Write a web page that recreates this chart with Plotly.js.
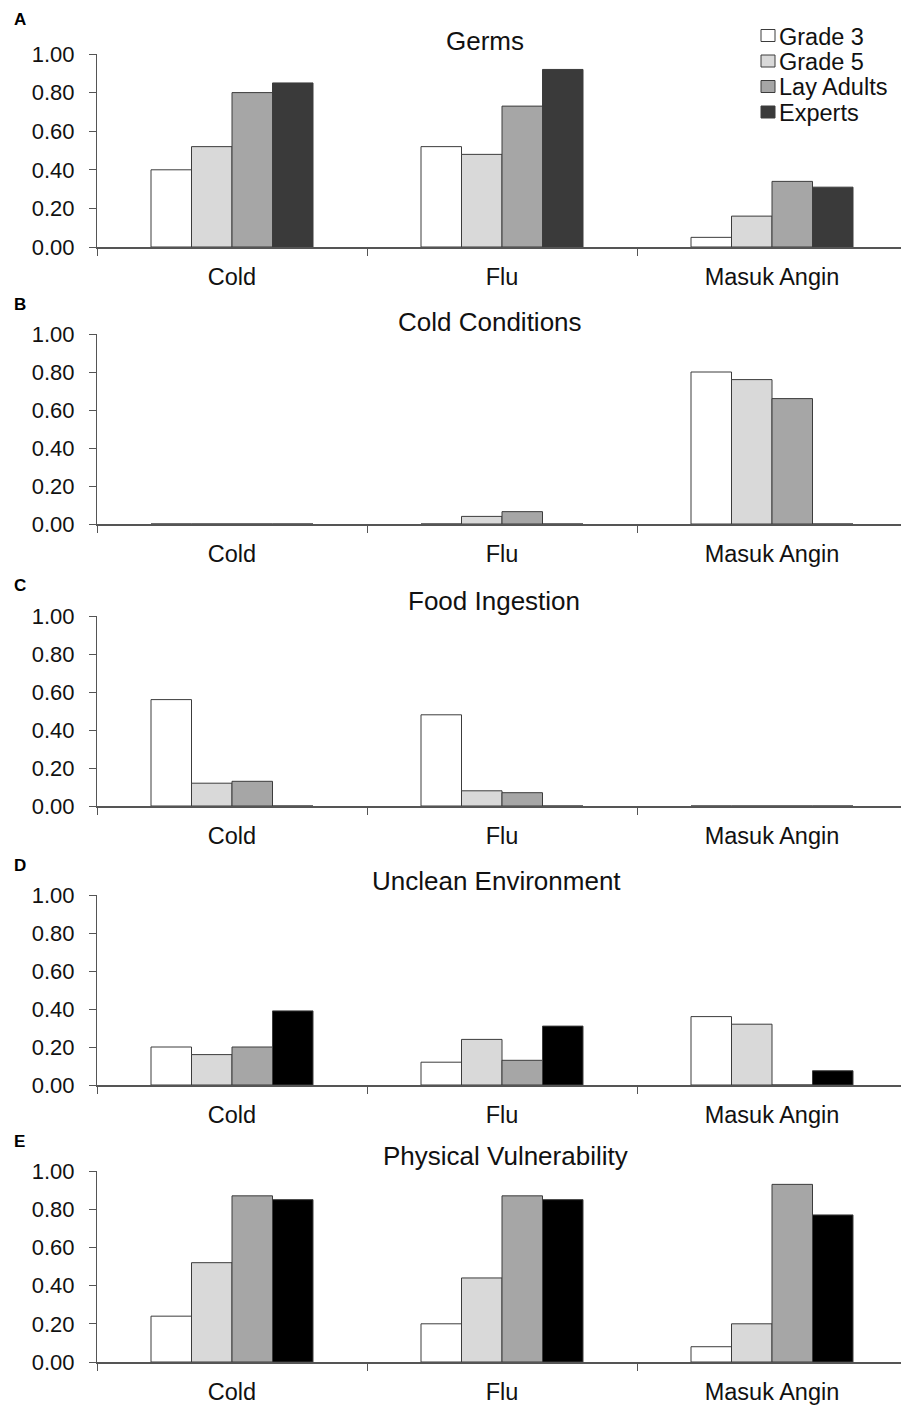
<!DOCTYPE html>
<html>
<head>
<meta charset="utf-8">
<script src="https://cdn.plot.ly/plotly-3.0.1.min.js"></script>
<style>html,body{margin:0;padding:0;background:#fff;}#chart{width:901px;height:1405px;}</style>
</head>
<body>
<div id="chart"></div>
<script>
// ---- data ----
const categories = ['Cold', 'Flu', 'Masuk Angin'];
const groups = ['Grade 3', 'Grade 5', 'Lay Adults', 'Experts'];
const panelTitles = ['Germs', 'Cold Conditions', 'Food Ingestion', 'Unclean Environment', 'Physical Vulnerability'];
const panelLetters = ['A', 'B', 'C', 'D', 'E'];
const yTickVals = [0, 0.2, 0.4, 0.6, 0.8, 1.0];
const yTickText = ['0.00', '0.20', '0.40', '0.60', '0.80', '1.00'];

// each row: one group (Grade 3, Grade 5, Lay Adults, Experts), values for Cold, Flu, Masuk Angin
const germs = [[0.40, 0.52, 0.05], [0.52, 0.48, 0.16], [0.80, 0.73, 0.34], [0.85, 0.92, 0.31]];
const coldConditions = [[0, 0, 0.80], [0, 0.04, 0.76], [0, 0.065, 0.66], [0, 0, 0]];
const foodIngestion = [[0.56, 0.48, 0], [0.12, 0.08, 0], [0.13, 0.07, 0], [0, 0, 0]];
const uncleanEnvironment = [[0.20, 0.12, 0.36], [0.16, 0.24, 0.32], [0.20, 0.13, 0], [0.39, 0.31, 0.075]];
const physicalVulnerability = [[0.24, 0.20, 0.08], [0.52, 0.44, 0.20], [0.87, 0.87, 0.93], [0.85, 0.85, 0.77]];
const panels = [germs, coldConditions, foodIngestion, uncleanEnvironment, physicalVulnerability];

// ---- styling ----
const W = 901, H = 1405;
const FONT = '"Liberation Sans", Arial, Helvetica, sans-serif';
const legendColors = ['#ffffff', '#d9d9d9', '#a6a6a6', '#3a3a3a'];
const fillColors = [
  ['#ffffff', '#d9d9d9', '#a6a6a6', '#3a3a3a'],
  ['#ffffff', '#d9d9d9', '#a6a6a6', '#3a3a3a'],
  ['#ffffff', '#d9d9d9', '#a6a6a6', '#3a3a3a'],
  ['#ffffff', '#d9d9d9', '#a6a6a6', '#000000'],
  ['#ffffff', '#d9d9d9', '#a6a6a6', '#000000']
];
// plot-area pixel extents (top of 1.00, baseline 0.00)
const plotPx = [[54, 247], [334, 524], [616, 806], [895, 1085], [1171, 1362]];
const titlePx = [[485, 41], [490, 322], [494, 601], [496, 881], [505, 1156]];
const letterPx = [20, 304, 585, 865, 1141];
const legendRowPx = [35.5, 61, 86.5, 112];
const xLeft = 97;
const xRangeMax = -0.5 + (W - xLeft) / 270;
const px = v => v / W;
const py = v => 1 - v / H;

const traces = [];
const layout = {
  width: W, height: H,
  margin: {l: 0, r: 0, t: 0, b: 0},
  paper_bgcolor: '#ffffff', plot_bgcolor: 'rgba(0,0,0,0)',
  font: {family: FONT, color: '#111111', size: 20},
  barmode: 'group', bargap: 0.4, bargroupgap: 0,
  showlegend: false,
  annotations: [],
  shapes: []
};

panels.forEach((panel, p) => {
  const sfx = p === 0 ? '' : String(p + 1);
  panel.forEach((vals, g) => {
    traces.push({
      type: 'bar',
      x: categories,
      y: vals,
      name: groups[g],
      showlegend: false,
      xaxis: 'x' + sfx,
      yaxis: 'y' + sfx,
      marker: {color: fillColors[p][g], line: {color: '#3c3c3c', width: 1}},
      hoverinfo: 'x+y+name'
    });
  });
  const [top, bot] = plotPx[p];
  layout['xaxis' + sfx] = {
    domain: [xLeft / W, 1],
    anchor: 'y' + sfx,
    type: 'category',
    range: [-0.5, xRangeMax],
    tickson: 'boundaries',
    ticks: 'outside', ticklen: 7, tickwidth: 1, tickcolor: '#555555',
    ticklabelstandoff: 8,
    showline: true, linecolor: '#555555', linewidth: 1.5,
    showgrid: false, zeroline: false,
    tickfont: {family: FONT, size: 23.5, color: '#111111'},
    fixedrange: true
  };
  layout['yaxis' + sfx] = {
    domain: [1 - bot / H, 1 - top / H],
    anchor: 'x' + sfx,
    range: [0, 1],
    tickmode: 'array', tickvals: yTickVals, ticktext: yTickText,
    ticks: 'outside', ticklen: 7, tickwidth: 1, tickcolor: '#555555',
    ticklabelstandoff: 10,
    showline: true, linecolor: '#555555', linewidth: 1,
    showgrid: false, zeroline: false,
    tickfont: {family: FONT, size: 22, color: '#111111'},
    fixedrange: true
  };
  layout.annotations.push({
    text: panelTitles[p], xref: 'paper', yref: 'paper',
    x: px(titlePx[p][0]), y: py(titlePx[p][1]),
    xanchor: 'center', yanchor: 'middle', showarrow: false,
    font: {family: FONT, size: 26, color: '#111111'}
  });
  layout.annotations.push({
    text: '<b>' + panelLetters[p] + '</b>', xref: 'paper', yref: 'paper',
    x: px(12), y: py(letterPx[p]),
    xanchor: 'left', yanchor: 'middle', showarrow: false,
    font: {family: FONT, size: 17, color: '#000000'}
  });
});

// legend (panel A, top right)
groups.forEach((name, g) => {
  const cy = legendRowPx[g];
  layout.shapes.push({
    type: 'rect', xref: 'paper', yref: 'paper',
    x0: px(761), x1: px(775), y0: py(cy + 6), y1: py(cy - 6),
    fillcolor: legendColors[g], line: {color: '#3c3c3c', width: 1}
  });
  layout.annotations.push({
    text: name, xref: 'paper', yref: 'paper',
    x: px(777), y: py(cy + 1),
    xanchor: 'left', yanchor: 'middle', showarrow: false,
    font: {family: FONT, size: 23.5, color: '#111111'}
  });
});

Plotly.newPlot('chart', traces, layout, {staticPlot: true, displayModeBar: false});
</script>
</body>
</html>
